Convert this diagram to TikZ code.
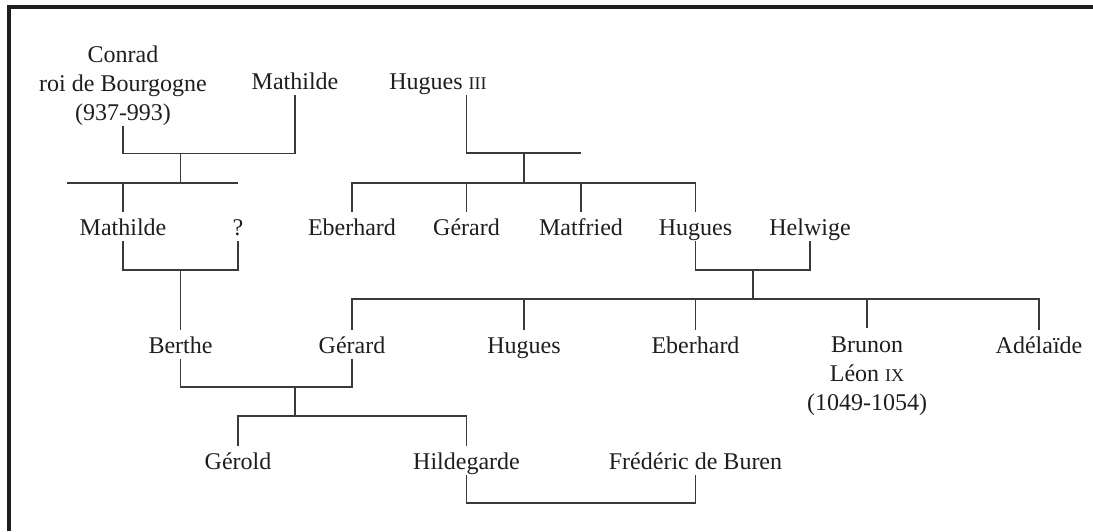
\documentclass[tikz,border=0pt]{standalone}
\usepackage{fontspec}
\setmainfont{Liberation Serif}
\definecolor{ink}{HTML}{1E1E1E}
\definecolor{linec}{HTML}{3A3A3A}
\begin{document}
\begin{tikzpicture}[x=0.5pt,y=-0.5pt,
  person/.style={font=\fontsize{12}{14.5}\selectfont, text=ink, inner xsep=1pt, inner ysep=3pt, text height=8.5pt, text depth=0pt, anchor=base},
  block/.style={font=\fontsize{12}{14.5}\selectfont, text=ink, inner xsep=1pt, inner ysep=0pt, align=center, anchor=north},
  link/.style={draw=linec, line width=0.85pt},
  frame/.style={draw=ink, line width=2pt}]
\useasboundingbox (0,0) rectangle (1093,531);
\draw[frame] (8.5,531) -- (8.5,7) -- (1093,7);

% row A
\node[block] (conrad) at (123,45) {Conrad\\roi de Bourgogne\\(937-993)};
\node[person] (mathildeA) at (295,89) {Mathilde};
\node[person, anchor=base west] (huguesIII) at (387,89) {Hugues {\fontsize{9}{10}\selectfont III}};
% row B
\node[person] (mathildeB) at (123,235) {Mathilde};
\node[person] (unknown) at (238,235) {?};
\node[person] (eberhardA) at (352,235) {Eberhard};
\node[person] (gerardA) at (466.5,235) {Gérard};
\node[person] (matfried) at (581,235) {Matfried};
\node[person] (huguesA) at (695.5,235) {Hugues};
\node[person] (helwige) at (810,235) {Helwige};
% row C
\node[person] (berthe) at (180.5,353) {Berthe};
\node[person] (gerardB) at (352,353) {Gérard};
\node[person] (huguesB) at (524,353) {Hugues};
\node[person] (eberhardB) at (695.5,353) {Eberhard};
\node[block, outer ysep=4.5pt] (brunon) at (867,328) {Brunon\\Léon {\fontsize{9}{10}\selectfont IX}\\(1049-1054)};
\node[person] (adelaide) at (1039,353) {Adélaïde};
% row D
\node[person] (gerold) at (238,469) {Gérold};
\node[person] (hildegarde) at (466.5,469) {Hildegarde};
\node[person] (frederic) at (695.5,469) {Frédéric de Buren};

% junction coordinates
\coordinate (m1) at (180.5,153.5);
\coordinate (s1) at (180.5,183);
\coordinate (s1L) at (67,183);
\coordinate (s1R) at (238,183);
\coordinate (m2) at (523.75,153);
\coordinate (m2R) at (581,153);
\coordinate (s2) at (523.75,183);
\coordinate (m3) at (180.5,270);
\coordinate (m4) at (752.75,270);
\coordinate (s4) at (752.75,299);
\coordinate (m5) at (294.75,387);
\coordinate (s5) at (294.75,416);
\coordinate (m6) at (581,503);

% Conrad + Mathilde
\draw[link] (conrad.south) |- (m1) -| (mathildeA.south);
\draw[link] (m1) -- (s1);
\draw[link] (s1L) -- (s1R);
\draw[link] (mathildeB.north) -- (mathildeB.north |- s1);
% Hugues III
\draw[link] (huguesIII.south -| gerardA) |- (m2) -- (m2R);
\draw[link] (m2) -- (s2);
\draw[link] (eberhardA.north) |- (s2) -| (huguesA.north);
\draw[link] (gerardA.north) -- (gerardA.north |- s2);
\draw[link] (matfried.north) -- (matfried.north |- s2);
% Mathilde + ?
\draw[link] (mathildeB.south) |- (m3) -| (unknown.south);
\draw[link] (m3) -- (berthe.north);
% Hugues + Helwige
\draw[link] (huguesA.south) |- (m4) -| (helwige.south);
\draw[link] (m4) -- (s4);
\draw[link] (gerardB.north) |- (s4) -| (adelaide.north);
\draw[link] (huguesB.north) -- (huguesB.north |- s4);
\draw[link] (eberhardB.north) -- (eberhardB.north |- s4);
\draw[link] (brunon.north) -- (brunon.north |- s4);
% Berthe + Gerard
\draw[link] (berthe.south) |- (m5) -| (gerardB.south);
\draw[link] (m5) -- (s5);
\draw[link] (gerold.north) |- (s5) -| (hildegarde.north);
% Hildegarde + Frederic
\draw[link] (hildegarde.south) |- (m6) -| (frederic.south);
\end{tikzpicture}
\end{document}
